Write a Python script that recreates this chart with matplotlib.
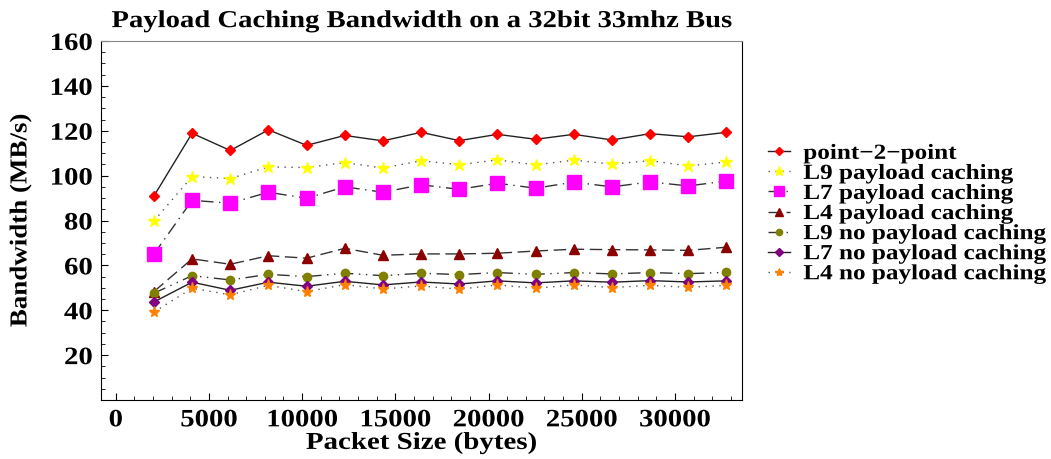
import matplotlib
matplotlib.use('Agg')
import matplotlib.pyplot as plt
from matplotlib.ticker import MultipleLocator
from matplotlib.patheffects import AbstractPathEffect
from matplotlib.transforms import Affine2D

# packet sizes (bytes)
packetSize = [2048 * k for k in range(1, 17)]

p2p = [90.9, 118.9, 111.2, 120.4, 113.5, 117.9, 115.5, 119.3,
       115.6, 118.4, 116.2, 118.4, 115.9, 118.7, 117.3, 119.3]
l9Cache = [79.8, 99.6, 98.7, 103.9, 103.6, 105.8, 103.4, 106.6,
           104.9, 107.0, 104.8, 106.9, 105.1, 106.7, 104.3, 106.1]
l7Cache = [65.0, 89.0, 87.7, 92.6, 89.9, 95.0, 92.6, 95.9,
           93.9, 96.6, 94.4, 97.1, 95.0, 97.2, 95.4, 97.6]
l4Cache = [48.3, 62.9, 60.5, 64.3, 63.2, 67.6, 64.5, 65.1,
           65.1, 65.4, 66.4, 67.2, 67.0, 66.9, 66.7, 68.1]
l9NoCache = [47.6, 55.4, 53.5, 56.0, 55.0, 56.5, 55.4, 56.5,
             55.9, 56.8, 56.0, 56.8, 56.2, 56.8, 56.3, 56.9]
l7NoCache = [43.7, 52.5, 48.9, 52.5, 50.7, 52.9, 51.3, 52.6,
             51.7, 53.1, 52.2, 53.1, 52.5, 53.2, 52.6, 53.1]
l4NoCache = [39.2, 49.8, 46.9, 51.1, 48.3, 51.4, 49.5, 50.8,
             49.4, 51.3, 49.8, 51.3, 50.1, 51.1, 50.2, 51.1]

labels = ['point\u22122\u2212point', 'L9 payload caching', 'L7 payload caching',
          'L4 payload caching', 'L9 no payload caching', 'L7 no payload caching',
          'L4 no payload caching']


class Stretch(AbstractPathEffect):
  # widen glyphs along the text direction (the original font is a bit wide)
  def __init__(self, sx, align='left'):
    super().__init__()
    self.sx = sx
    self.align = align

  def draw_path(self, renderer, gc, tpath, affine, rgbFace=None):
    w = tpath.get_extents().x1
    shift = {'left': 0, 'center': -(self.sx-1)*w/2, 'right': -(self.sx-1)*w}[self.align]
    aff = Affine2D().scale(self.sx, 1).translate(shift, 0) + affine
    renderer.draw_path(gc, tpath, aff, rgbFace)


plt.rcParams['font.family'] = ['Liberation Serif', 'DejaVu Serif']
plt.rcParams['font.weight'] = 'bold'

fig = plt.figure(figsize=(10.51, 4.59), dpi=100)
ax = fig.add_axes([101/1051, 1-400/459, 641/1051, 359/459])

series = [p2p, l9Cache, l7Cache, l4Cache, l9NoCache, l7NoCache, l4NoCache]
styles = [
  dict(ls='-', marker='D', color='red', ms=5, lc='#222222'),
  dict(ls=(0, (1, 4)), marker='*', color='#ffff00', ms=9, lc='#555555'),
  dict(ls=(0, (9, 4, 1, 4)), marker='s', color='#ff00ff', ms=10, lc='#333333'),
  dict(ls=(0, (9, 4)), marker='^', color='#8b0000', ms=7, lc='#333333'),
  dict(ls=(0, (9, 4, 1, 4, 1, 4)), marker='o', color='#808000', ms=6, lc='#333333'),
  dict(ls='-', marker='D', color='#800080', ms=5, lc='#222222'),
  dict(ls=(0, (1, 4)), marker='*', color='#ff8000', ms=8, lc='#555555'),
]
for y, st, lab in zip(series, styles, labels):
  ax.plot(packetSize, y, linestyle=st['ls'], color=st['lc'], lw=1.0,
          marker=st['marker'], mfc=st['color'], mec=st['color'],
          ms=st['ms'], label=lab)

ax.set_xlim(-790, 33600)
ax.set_ylim(0, 160)
ax.xaxis.set_major_locator(MultipleLocator(5000))
ax.xaxis.set_minor_locator(MultipleLocator(1000))
ax.set_yticks([20, 40, 60, 80, 100, 120, 140, 160])
ax.yaxis.set_minor_locator(MultipleLocator(5))
ax.tick_params(which='both', direction='in', top=False, right=False, labelsize=18)
ax.tick_params(which='major', length=5)
ax.tick_params(which='minor', length=3)
ax.tick_params(axis='y', pad=6)
ax.tick_params(axis='x', pad=6)
ax.spines['top'].set_color('#888888')
for lab in ax.get_xticklabels():
  lab.set_fontweight('bold')
  lab.set_path_effects([Stretch(1.15, 'center')])
for lab in ax.get_yticklabels():
  lab.set_fontweight('bold')
  lab.set_path_effects([Stretch(1.15, 'right')])

ax.set_xlabel('Packet Size (bytes)', fontsize=17.5, fontweight='bold', labelpad=1,
              path_effects=[Stretch(1.19, 'center')])
ax.set_ylabel('Bandwidth (MB/s)', fontsize=17.5, fontweight='bold', labelpad=17,
              path_effects=[Stretch(1.11, 'center')])
ax.set_title('Payload Caching Bandwidth on a 32bit 33mhz Bus', fontsize=17.5,
             fontweight='bold', pad=10, path_effects=[Stretch(1.18, 'center')])

leg = fig.legend(loc='center left', bbox_to_anchor=(757/1051, 1-214/459), frameon=False,
                 prop={'size': 15.5, 'weight': 'bold'}, handlelength=1.05,
                 labelspacing=0.0, handletextpad=0.6, borderpad=0, markerscale=0.75)
for t in leg.get_texts():
  t.set_path_effects([Stretch(1.17, 'left')])

fig.savefig('out.png', dpi=100)
